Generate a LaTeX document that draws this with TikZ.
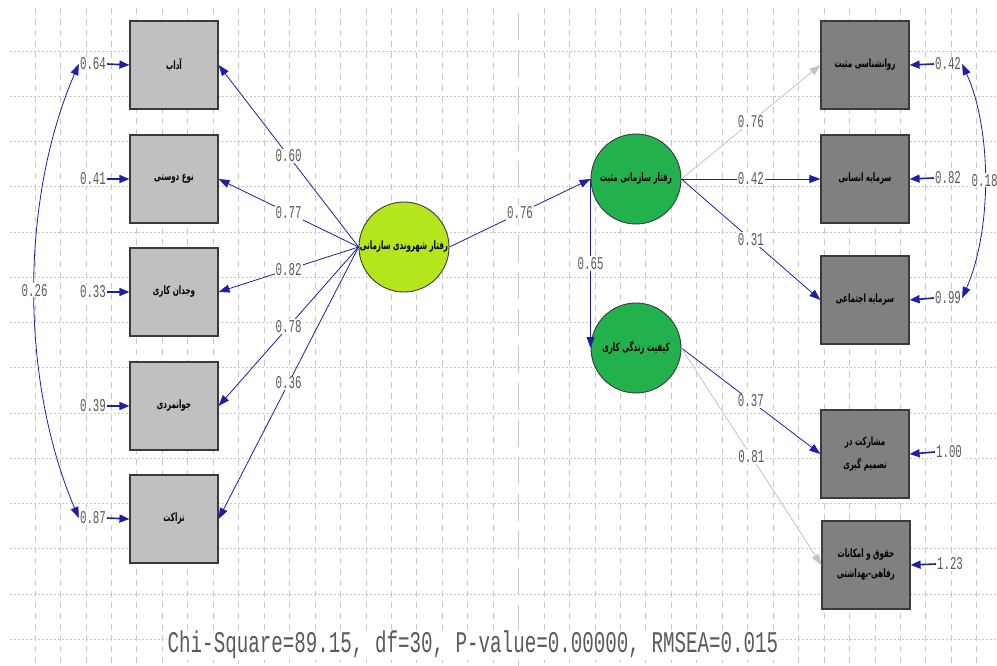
\documentclass[tikz,border=0pt]{standalone}
\usepackage{fontspec}
\usepackage{graphicx}
\usetikzlibrary{arrows.meta}
\TeXXeTstate=1
\newfontfamily\fa[Script=Arabic]{DejaVu Sans}
\newfontfamily\numfont{Liberation Mono}

\definecolor{gridgray}{HTML}{C8C8C8}
\definecolor{pathblue}{HTML}{1E1EA8}
\definecolor{ghostgray}{HTML}{C4C4C4}
\definecolor{boxlight}{HTML}{C0C0C0}
\definecolor{boxdark}{HTML}{808080}
\definecolor{limefill}{HTML}{B5E61D}
\definecolor{latgreen}{HTML}{22B14C}
\definecolor{valgray}{HTML}{5A5A5A}
\definecolor{edgegray}{HTML}{3A3A3A}

% condensed monospace figures used for all coefficients
\newcommand\coef[1]{\scalebox{0.6}[1]{\fontsize{18}{18}\selectfont\numfont #1}}
% condensed bold Persian labels
\newcommand\fatext[1]{\scalebox{0.62}[1]{\fa\bfseries\fontsize{11.5}{14}\selectfont\beginR #1\endR}}

\begin{document}
\begin{tikzpicture}[x=1pt,y=-1pt,
  hgrid/.style={draw=gridgray, line width=0.7pt, dash pattern=on 2pt off 2pt},
  vgrid/.style={draw=gridgray, line width=0.7pt, dash pattern=on 6pt off 5pt},
  lbox/.style={draw=edgegray, line width=1.2pt, fill=boxlight, minimum width=88pt, minimum height=88pt, inner sep=0pt, align=center},
  rbox/.style={lbox, fill=boxdark},
  latent/.style={circle, draw=edgegray, line width=0.9pt, minimum size=90pt, inner sep=0pt},
  val/.style={fill=white, inner sep=1pt, text=valgray},
  tip/.style={-{Triangle[length=11pt,width=8pt]}},
  loading/.style={draw=pathblue, line width=0.8pt, tip},
  faint/.style={draw=ghostgray, line width=0.8pt, tip},
  errarrow/.style={draw=pathblue, line width=1.6pt, -{Triangle[length=10pt,width=8pt]}},
  covarc/.style={draw=pathblue, line width=0.8pt, {Triangle[length=11pt,width=8pt]}-{Triangle[length=11pt,width=8pt]}},
]
\useasboundingbox (0,0) rectangle (997,666);
\fill[white] (0,0) rectangle (997,666);

% background grid
\foreach \k in {0,...,13}
  \draw[hgrid] (10,51+45.25*\k) -- (997,51+45.25*\k);
\foreach \k in {0,...,18,20,21,...,37}
  \draw[vgrid] (35+25.45*\k,8) -- (35+25.45*\k,666);
\draw[draw=gridgray, line width=0.9pt, dash pattern=on 27pt off 10pt] (518,13) -- (518,666);

% observed indicators, left block
\node[lbox] (b1) at (174,65)  {\fatext{آداب}};
\node[lbox] (b2) at (174,179) {\fatext{نوع دوستی}};
\node[lbox] (b3) at (174,292) {\fatext{وجدان کاری}};
\node[lbox] (b4) at (174,406) {\fatext{جوانمردی}};
\node[lbox] (b5) at (174,519) {\fatext{نزاکت}};

% observed indicators, right block
\node[rbox] (r1) at (865,65)  {\fatext{روانشناسی مثبت}};
\node[rbox] (r2) at (865,179) {\fatext{سرمایه انسانی}};
\node[rbox] (r3) at (865,300) {\fatext{سرمایه اجتماعی}};
\node[rbox] (r4) at (865,454) {\fatext{مشارکت در}\\[8pt]\fatext{تصمیم گیری}};
\node[rbox] (r5) at (866,565) {\fatext{حقوق و امکانات}\\[8pt]\fatext{رفاهی-بهداشتی}};

% latent variables
\node[latent, fill=limefill] (L) at (404,247) {\fatext{رفتار شهروندی سازمانی}};
\node[latent, fill=latgreen] (A) at (636,179) {\fatext{رفتار سازمانی مثبت}};
\node[latent, fill=latgreen] (Q) at (636,348) {\fatext{کیفیت زندگی کاری}};

% error variances
\node[val] (e1) at (93,64)  {\coef{0.64}};
\node[val] (e2) at (93,179) {\coef{0.41}};
\node[val] (e3) at (93,292) {\coef{0.33}};
\node[val] (e4) at (93,406) {\coef{0.39}};
\node[val] (e5) at (93,518) {\coef{0.87}};
\node[val] (f1) at (948,64)  {\coef{0.42}};
\node[val] (f2) at (948,178) {\coef{0.82}};
\node[val] (f3) at (948,298) {\coef{0.99}};
\node[val] (f4) at (949,452) {\coef{1.00}};
\node[val] (f5) at (950,564) {\coef{1.23}};

\foreach \i in {1,...,5} {
  \draw[errarrow] (e\i.east) -- (b\i.west);
  \draw[errarrow] (f\i.west) -- (r\i.east);
}

% error covariances
\draw[covarc] (e1.west) .. controls (20,200) and (20,380) .. node[val] {\coef{0.26}} (e5.west);
\draw[covarc] (f1.east) .. controls (992,130) and (992,230) .. node[val] {\coef{0.18}} (f3.east);

% loadings of the left latent
\draw[loading] (L.west) -- node[val] {\coef{0.60}} (b1.east);
\draw[loading] (L.west) -- node[val] {\coef{0.77}} (b2.east);
\draw[loading] (L.west) -- node[val] {\coef{0.82}} (b3.east);
\draw[loading] (L.west) -- node[val] {\coef{0.78}} (b4.east);
\draw[loading] (L.west) -- node[val] {\coef{0.36}} (b5.east);

% structural paths
\draw[loading] (L.east) -- node[val] {\coef{0.76}} (A.west);
\draw[loading] (A.west) -- node[val] {\coef{0.65}} (Q.west);

% loadings of the right latents
\draw[faint]   (A.east) -- node[val] {\coef{0.76}} (r1.west);
\draw[loading] (A.east) -- node[val] {\coef{0.42}} (r2.west);
\draw[loading] (A.east) -- node[val] {\coef{0.31}} (r3.west);
\draw[loading] (Q.east) -- node[val] {\coef{0.37}} (r4.west);
\draw[faint]   (Q.east) -- node[val] {\coef{0.81}} (r5.west);

% fit statistics
\node[fill=white, inner sep=1pt, text=valgray] (fit) at (473,645)
  {\scalebox{0.64}[1]{\fontsize{30}{30}\selectfont\numfont Chi-Square=89.15, df=30, P-value=0.00000, RMSEA=0.015}};
\end{tikzpicture}
\end{document}
